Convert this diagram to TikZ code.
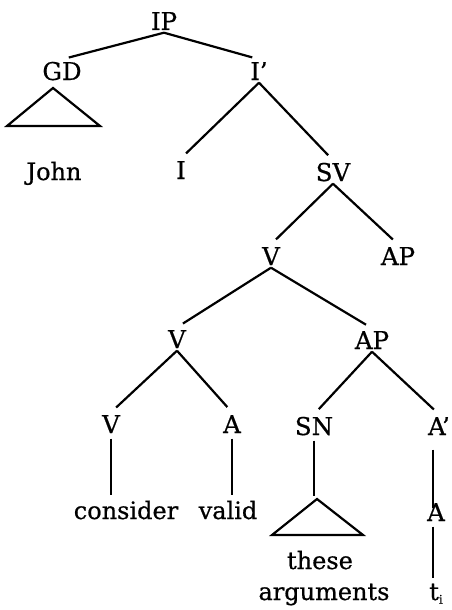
\documentclass[tikz,border=0pt]{standalone}
\usepackage{fontspec}
\setmainfont{DejaVu Serif}[FakeBold=0.6]
\begin{document}
\begin{tikzpicture}[x=1pt,y=-1pt,
  cat/.style={inner sep=2.5pt,text height=18pt,text depth=0pt,font=\fontsize{24.5}{27}\selectfont},
  leaf/.style={anchor=base,inner sep=1pt,font=\fontsize{24}{27}\selectfont},
  branch/.style={line width=2.2pt,shorten >=7pt},
  stem/.style={line width=2.2pt},
  tri/.style={line width=2.2pt,line join=miter}]
\useasboundingbox (0,0) rectangle (451,610);

% category labels
\node[cat] (IP)  at (164,21)  {IP};
\node[cat] (GD)  at (62,71)   {GD};
\node[cat] (Ib)  at (259,71)  {I’};
\node[cat] (I)   at (181,170) {I};
\node[cat] (SV)  at (333,172) {SV};
\node[cat] (Va)  at (271,256) {V};
\node[cat] (APa) at (398,256) {AP};
\node[cat] (Vb)  at (177,339) {V};
\node[cat] (APb) at (372,340) {AP};
\node[cat] (Vc)  at (111,424) {V};
\node[cat] (Aa)  at (232,424) {A};
\node[cat] (SN)  at (314,426) {SN};
\node[cat] (Ab)  at (439,426) {A’};
\node[cat] (Ac)  at (436,512) {A};

% terminal words
\node[leaf] (john)     at (54,180)  {John};
\node[leaf] (consider) at (126,519) {consider};
\node[leaf] (valid)    at (228,519) {valid};
\node[leaf] (these)    at (320,569) {these};
\node[leaf] (args)     at (324,600) {arguments};
\node[leaf] (trace)    at (436,600) {t\raisebox{-0.3ex}{\fontsize{12}{12}\selectfont i}};

% branches
\draw[branch] (IP.south) -- (GD.north);
\draw[branch] (IP.south) -- (Ib.north);
\draw[branch] (Ib.south) -- (I.north);
\draw[branch] (Ib.south) -- (SV.north);
\draw[branch] (SV.south) -- (Va.north);
\draw[branch] (SV.south) -- (APa.north);
\draw[branch] (Va.south) -- (Vb.north);
\draw[branch] (Va.south) -- (APb.north);
\draw[branch] (Vb.south) -- (Vc.north);
\draw[branch] (Vb.south) -- (Aa.north);
\draw[branch] (APb.south) -- (SN.north);
\draw[branch] (APb.south) -- (Ab.north);

% unary stems
\draw[stem] ([yshift=-3pt]Vc.south) -- ([yshift=5pt]consider.north -| Vc.south);
\draw[stem] ([yshift=-3pt]Aa.south) -- ([yshift=5pt]valid.north -| Aa.south);
\draw[stem] ([yshift=-3pt]SN.south) -- ++(0,55);
\draw[stem] ([xshift=-3pt,yshift=-12pt]Ab.south -| Ac.north) -- ([xshift=-3pt,yshift=-8pt]Ac.north);
\draw[stem] ([xshift=-3pt,yshift=-3pt]Ac.south) -- ([xshift=-3pt,yshift=4pt]trace.north -| Ac.south);

% roof triangles
\draw[tri] (53,88) -- (100,126) -- (7,126) -- cycle;
\draw[tri] (317,499) -- (363,535) -- (272,535) -- cycle;
\end{tikzpicture}
\end{document}
